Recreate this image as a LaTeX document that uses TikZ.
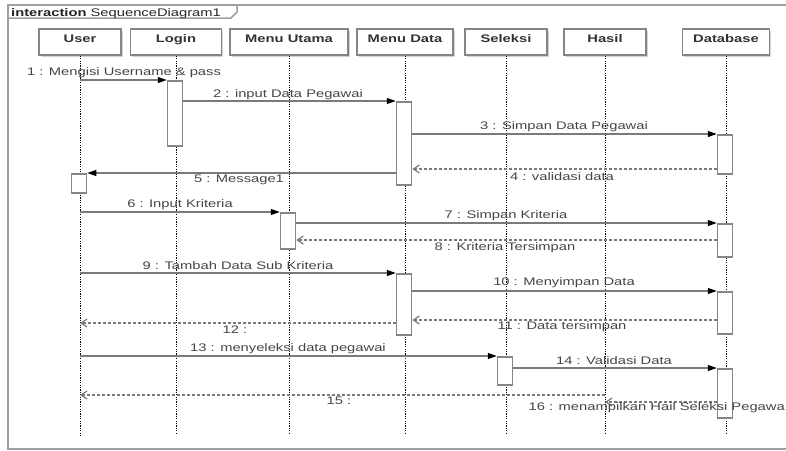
\documentclass[tikz,border=0pt]{standalone}
\usepackage{fontspec}
\setmainfont[FakeStretch=1.34]{Liberation Sans}
\usetikzlibrary{arrows.meta,shadows}
\definecolor{lineg}{HTML}{7A7A7A}
\definecolor{boxg}{HTML}{858585}
\definecolor{txtg}{HTML}{454545}
\definecolor{framec}{HTML}{A0A0A0}
\tikzset{
  hbox/.style={draw=boxg, line width=1.4pt, fill=white, minimum height=26pt, inner sep=0pt,
    font=\fontsize{11}{13}\selectfont\bfseries, text=black!80, text height=5pt, text depth=5pt,
    drop shadow={shadow xshift=1.5pt, shadow yshift=-1.5pt, opacity=0.35, fill=gray}},
  act/.style={draw=boxg, line width=1.5pt, fill=white, minimum width=15pt, inner sep=0pt, anchor=north},
  msg/.style={draw=lineg, line width=1.3pt, -{Triangle[length=9pt,width=6pt,color=black]}},
  ret/.style={draw=lineg, line width=1.2pt, dash pattern=on 3pt off 2pt, -{Straight Barb[length=6pt,width=8pt]}},
  life/.style={draw=black, line width=0.9pt, dash pattern=on 1.2pt off 1.2pt},
  lab/.style={text=txtg, inner sep=0pt},
}
\begin{document}
\begin{tikzpicture}[x=1pt, y=-1pt, font=\fontsize{11}{13}\selectfont]
\useasboundingbox (0,0) rectangle (786,450);
\clip (0,0) rectangle (786,450);
% frame
\draw[framec, line width=1.5pt] (790,5) -- (8,5) -- (8,449) -- (790,449);
\draw[framec, line width=1.5pt] (8,18) -- (231,18) -- (237,12) -- (237,5);
\node[anchor=base west, inner sep=0pt, text=black!85] (title) at (11,16) {\textbf{interaction} SequenceDiagram1};
% headers
\node[hbox, minimum width=82pt] (u) at (80,42) {User};
\node[hbox, minimum width=91pt] (l) at (176,42) {Login};
\node[hbox, minimum width=118pt] (mu) at (289,42) {Menu Utama};
\node[hbox, minimum width=96pt] (md) at (405,42) {Menu Data};
\node[hbox, minimum width=82pt] (s) at (506,42) {Seleksi};
\node[hbox, minimum width=82pt] (h) at (605,42) {Hasil};
\node[hbox, minimum width=87pt] (db) at (726,42) {Database};
% lifelines
\draw[life] (u.south) -- (u |- 0,435);
\draw[life] (l.south) -- (l |- 0,433);
\draw[life] (mu.south) -- (mu |- 0,433);
\draw[life] (md.south) -- (md |- 0,433);
\draw[life] (s.south) -- (s |- 0,433);
\draw[life] (h.south) -- (h |- 0,433);
\draw[life] (db.south) -- (db |- 0,433);
% activations
\node[act, minimum height=65pt] (la) at (175,80) {};
\node[act, minimum height=83pt] (md1) at (404,101) {};
\node[act, minimum height=39pt] (db1) at (725,134) {};
\node[act, minimum height=19pt] (ua) at (79,173) {};
\node[act, minimum height=36pt] (mua) at (288,212) {};
\node[act, minimum height=33pt] (db2) at (725,223) {};
\node[act, minimum height=61pt] (md2) at (404,273) {};
\node[act, minimum height=42pt] (db3) at (725,291) {};
\node[act, minimum height=28pt] (se) at (505,356) {};
\node[act, minimum height=49pt] (db4) at (725,368) {};
% messages
\draw[msg] (u |- la.north) -- (la.north west);
\node[lab] (t1) at (124,73) {1 : Mengisi Username \& pass};
\draw[msg] (la.east |- md1.north) -- (md1.north west);
\node[lab] (t2) at (288,95) {2 : input Data Pegawai};
\draw[msg] (md1.east |- db1.north) -- (db1.north west);
\node[lab] (t3) at (564,127) {3 : Simpan Data Pegawai};
\draw[ret] (db1.west |- 0,169) -- (md1.east |- 0,169);
\node[lab] (t4) at (562,177) {4 : validasi data};
\draw[msg] (md1.west |- ua.north) -- (ua.north east);
\node[lab] (t5) at (239,180) {5 : Message1};
\draw[msg] (u |- mua.north) -- (mua.north west);
\node[lab] (t6) at (180,205) {6 : Input Kriteria};
\draw[msg] (mua.east |- db2.north) -- (db2.north west);
\node[lab] (t7) at (506,216) {7 : Simpan Kriteria};
\draw[ret] (db2.west |- 0,240) -- (mua.east |- 0,240);
\node[lab] (t8) at (505,248) {8 : Kriteria Tersimpan};
\draw[msg] (u |- md2.north) -- (md2.north west);
\node[lab] (t9) at (238,266) {9 : Tambah Data Sub Kriteria};
\draw[msg] (md2.east |- db3.north) -- (db3.north west);
\node[lab] (t10) at (564,283) {10 : Menyimpan Data};
\draw[ret] (db3.west |- 0,320) -- (md2.east |- 0,320);
\node[lab] (t11) at (562,327) {11 : Data tersimpan};
\draw[ret] (md2.west |- 0,323) -- (u |- 0,323);
\node[lab] (t12) at (235,330) {12 :};
\draw[msg] (u |- se.north) -- (se.north west);
\node[lab] (t13) at (288,349) {13 : menyeleksi data pegawai};
\draw[msg] (se.east |- db4.north) -- (db4.north west);
\node[lab] (t14) at (614,361) {14 : Validasi Data};
\draw[ret] (h |- 0,395) -- (u |- 0,395);
\node[lab] (t15) at (339,401) {15 :};
\draw[ret] (db4.west |- 0,402) -- (h |- 0,402);
\node[lab, anchor=east] (t16) at (785,408) {16 : menampilkan Hail Seleksi Pegawa};
\end{tikzpicture}
\end{document}
